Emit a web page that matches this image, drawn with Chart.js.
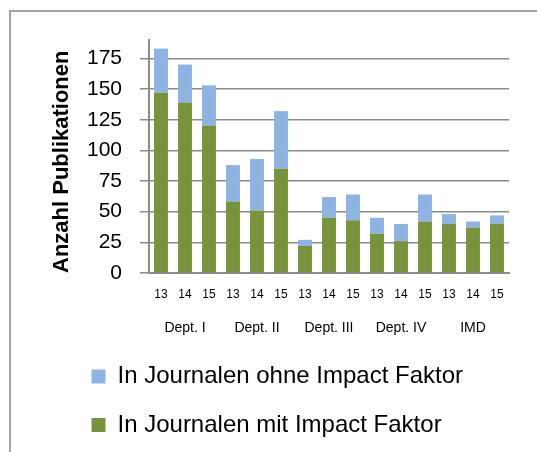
<!DOCTYPE html>
<html lang="de">
<head>
<meta charset="utf-8">
<title>Publikationen</title>
<script src="https://cdn.jsdelivr.net/npm/chart.js@4/dist/chart.umd.min.js"></script>
<style>
    html, body { margin: 0; padding: 0; background: #fff; }
    #wrap { position: relative; width: 537px; height: 452px; overflow: hidden; }
    /* Rahmen des Diagramms (nur links und oben sichtbar) */
    #frame {
        position: absolute; left: 9px; top: 10px; width: 600px; height: 500px;
        border-left: 2px solid #a3a3a3; border-top: 2px solid #a3a3a3;
    }
    #chart { position: absolute; left: 0; top: 0; }
</style>
</head>
<body>
<div id="wrap">
    <div id="frame"></div>
    <canvas id="chart" width="537" height="452"></canvas>
</div>
<script>
// --- Daten ---
const years = ['13', '14', '15', '13', '14', '15', '13', '14', '15', '13', '14', '15', '13', '14', '15'];
const groups = ['Dept. I', 'Dept. II', 'Dept. III', 'Dept. IV', 'IMD'];
const mitImpact = [147, 139, 120, 58, 51, 85, 22, 45, 43, 32, 26, 42, 40, 37, 40];
const ohneImpact = [36, 31, 33, 30, 42, 47, 5, 17, 21, 13, 14, 22, 8, 5, 7];
const yTicks = [0, 25, 50, 75, 100, 125, 150, 175];

const FONT = "'Liberation Sans', Arial, sans-serif";
const GRID = '#8c8c8c';

// Legende linksbündig unter dem Diagramm ausrichten
const legendShift = {
    id: 'legendShift',
    afterLayout(chart) {
        chart.legend.left = 67;
    }
};

new Chart(document.getElementById('chart'), {
    type: 'bar',
    data: {
        labels: years,
        datasets: [{
            label: 'In Journalen mit Impact Faktor',
            data: mitImpact,
            backgroundColor: '#77933C'
        }, {
            label: 'In Journalen ohne Impact Faktor',
            data: ohneImpact,
            backgroundColor: '#8EB4E3'
        }]
    },
    options: {
        responsive: false,
        animation: false,
        categoryPercentage: 1,
        barPercentage: 0.58,
        layout: { padding: { left: 0, right: 28, top: 40, bottom: 5 } },
        scales: {
            x: {
                stacked: true,
                grid: { display: false, drawTicks: false },
                border: { color: GRID, width: 2 },
                ticks: { color: '#000', padding: 14, maxRotation: 0, font: { family: FONT, size: 12 } }
            },
            x2: {
                type: 'category',
                position: 'bottom',
                labels: groups,
                offset: true,
                grid: { display: false, drawTicks: false },
                border: { display: false },
                ticks: { color: '#000', padding: 3.9, maxRotation: 0, font: { family: FONT, size: 14 } }
            },
            y: {
                stacked: true,
                min: 0,
                max: 190,
                afterBuildTicks: (scale) => {
                    scale.ticks = yTicks.map(v => ({ value: v }));
                },
                afterFit: (scale) => { scale.width = 149; },
                grid: { color: GRID, lineWidth: 1.5, tickLength: 9 },
                border: { color: GRID, width: 2 },
                ticks: { color: '#000', padding: 18, font: { family: FONT, size: 21 } },
                title: {
                    display: true,
                    text: 'Anzahl Publikationen',
                    align: 'start',
                    color: '#000',
                    padding: { top: 49, bottom: 0 },
                    font: { family: FONT, size: 22, weight: 'bold' }
                }
            }
        },
        plugins: {
            tooltip: { enabled: false },
            legend: {
                position: 'bottom',
                align: 'start',
                reverse: true,
                labels: {
                    boxWidth: 14,
                    boxHeight: 14,
                    padding: 24.5,
                    color: '#000',
                    font: { family: FONT, size: 24 }
                }
            }
        }
    },
    plugins: [legendShift]
});
</script>
</body>
</html>
